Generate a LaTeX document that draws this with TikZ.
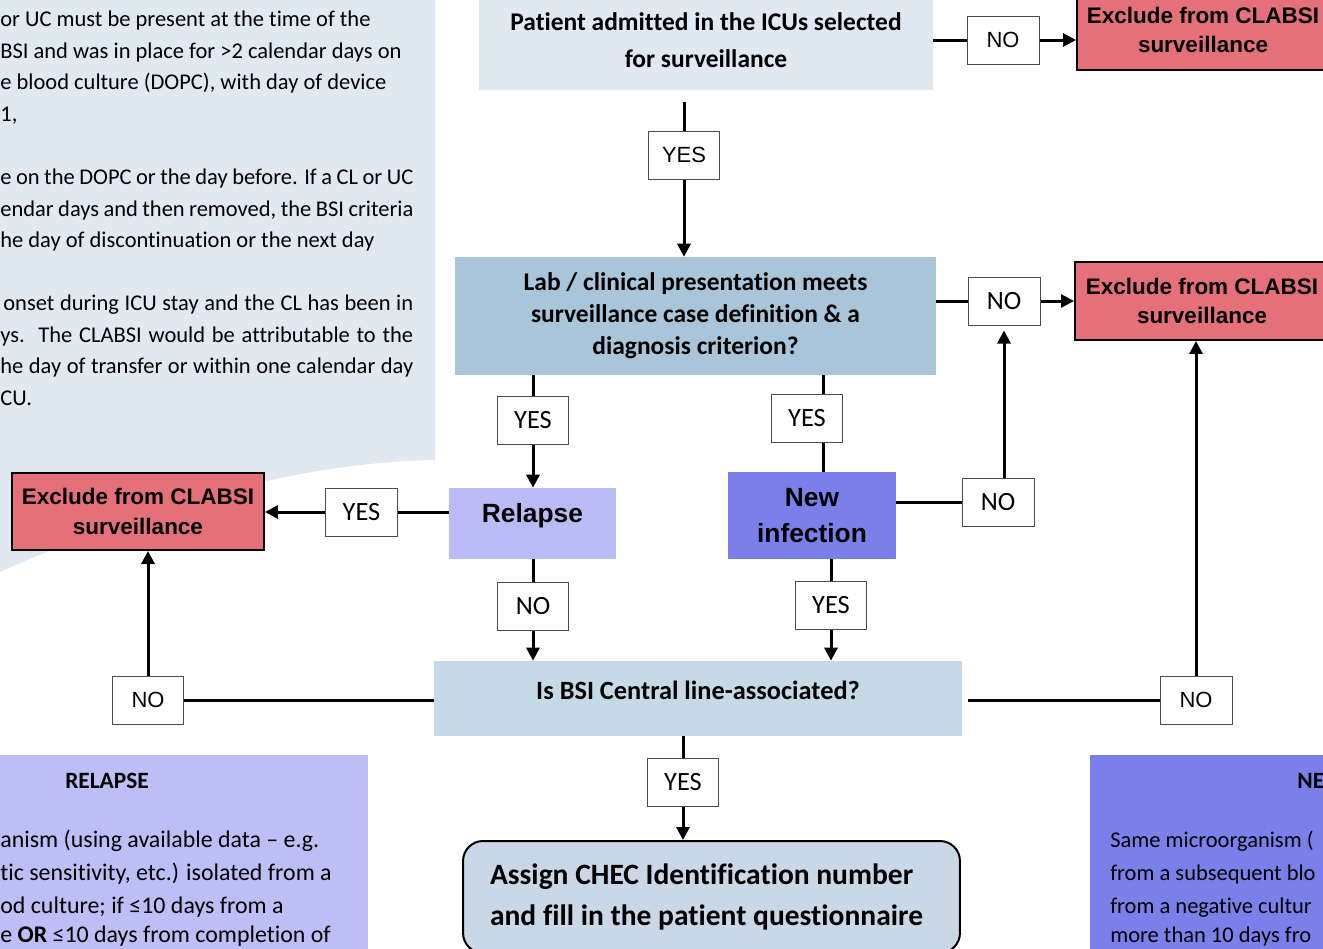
\documentclass[tikz,border=0pt]{standalone}
\usepackage{fontspec}
\setmainfont{Carlito}[Ligatures=NoCommon]
\newfontfamily\arialfont{Liberation Sans}
\usetikzlibrary{arrows.meta}

\definecolor{paleblue}{HTML}{E0E8F1}
\definecolor{labblue}{HTML}{A9C5DA}
\definecolor{bsiblue}{HTML}{C6D9E7}
\definecolor{assignblue}{HTML}{C9D7E6}
\definecolor{excludered}{HTML}{E5707A}
\definecolor{relapselilac}{HTML}{B9BCF4}
\definecolor{newviolet}{HTML}{7B7FEA}

\begin{document}
\begin{tikzpicture}[x=0.02cm, y=-0.02cm]
\newcommand{\justline}[1]{\makebox[82.6mm][s]{#1}}
\newcommand{\parafont}{\fontsize{12.8}{15}\selectfont}
\newcommand{\notefont}{\fontsize{13.6}{16}\selectfont}

\tikzset{ boxstyle/.style={inner sep=0pt, align=center,
    font={\fontsize{14.5}{21}\selectfont\bfseries}},
  excludestyle/.style={draw, line width=0.4mm, fill=excludered,
    minimum width=50.4mm, inner sep=0pt, align=center,
    font={\arialfont\fontsize{12.8}{17}\selectfont\bfseries}},
  labelstyle/.style={draw=gray!60!black, line width=0.2mm, fill=white,
    minimum width=14.4mm, minimum height=9.6mm, inner sep=0pt,
    font={\fontsize{15}{17}\selectfont}},
  arialabel/.style={labelstyle, font={\arialfont\fontsize{12.5}{14}\selectfont}},
  paraline/.style={anchor=base west, inner sep=0pt, font=\parafont},
  noteline/.style={anchor=base west, inner sep=0pt, font=\notefont},
  linestyle/.style={line width=0.6mm},
  arrowstyle/.style={linestyle, -{Triangle[length=2.6mm, width=2.6mm]}}
}

\useasboundingbox (0,0) rectangle (1323,948);
\clip (0,0) rectangle (1323,948);

% background panels
\fill[paleblue] (0,0) -- (435,0) -- (435,460) .. controls (300,462) and (150,505) .. (0,572) -- cycle;
\fill[relapselilac!95!white] (0,755) rectangle (368,960);
\fill[newviolet] (1090,755) rectangle (1330,960);

% notes, top left
\node (intro1) at (0,26) [paraline] {or UC must be present at the time of the};
\node (intro2) at (0,58) [paraline] {BSI and was in place for >2 calendar days on};
\node (intro3) at (0,89) [paraline] {e blood culture (DOPC), with day of device};
\node (intro4) at (0,121) [paraline] {1,};
\node (intro5) at (0,184) [paraline] {\justline{e on the DOPC or the day before. If a CL or UC}};
\node (intro6) at (0,216) [paraline] {\justline{endar days and then removed, the BSI criteria}};
\node (intro7) at (0,247) [paraline] {he day of discontinuation or the next day};
\node (intro8) at (3,310) [paraline] {\makebox[82mm][s]{onset during ICU stay and the CL has been in}};
\node (intro9) at (0,342) [paraline] {\justline{ys.\ \ The CLABSI would be attributable to the}};
\node (intro10) at (0,373) [paraline] {\justline{he day of transfer or within one calendar day}};
\node (intro11) at (0,405) [paraline] {CU.};

% notes, bottom
\node (relhead) at (107,781) [font={\fontsize{13.3}{15}\selectfont\bfseries}] {RELAPSE};
\node (rel1) at (0,847) [noteline] {anism (using available data – e.g.};
\node (rel2) at (0,880) [noteline] {tic sensitivity, etc.) isolated from a};
\node (rel3) at (0,913) [noteline] {od culture; if ≤10 days from a};
\node (rel4) at (0,942) [noteline] {e \textbf{OR} ≤10 days from completion of};
\node (newhead) at (1297,781) [anchor=west, inner sep=0pt, font={\fontsize{13.3}{15}\selectfont\bfseries}] {NE};
\node (new1) at (1110,847) [paraline] {Same microorganism (};
\node (new2) at (1110,880) [paraline] {from a subsequent blo};
\node (new3) at (1110,913) [paraline] {from a negative cultur};
\node (new4) at (1110,942) [paraline] {more than 10 days fro};

% flowchart boxes
\node (admit) at (706,40) [boxstyle, fill=paleblue, minimum width=90.8mm, minimum height=20mm,
  font={\fontsize{14.5}{21}\selectfont\bfseries}] {Patient admitted in the ICUs selected\\for surveillance};
\node (lab) at (695.5,316) [boxstyle, fill=labblue, minimum width=96.2mm, minimum height=23.6mm,
  font={\fontsize{14.5}{18.2}\selectfont\bfseries}] {Lab / clinical presentation meets\\surveillance case definition \& a\\diagnosis criterion?};
\node (relapse) at (532.5,523.5) [boxstyle, fill=relapselilac, minimum width=33.4mm, minimum height=14.2mm,
  text depth=4.2mm, font={\arialfont\fontsize{15}{20}\selectfont\bfseries}] {Relapse};
\node (newinf) at (812,515.5) [boxstyle, fill=newviolet, minimum width=33.6mm, minimum height=17.4mm,
  font={\arialfont\fontsize{15}{20}\selectfont\bfseries}] {New\\infection};
\node (bsi) at (698,698.5) [boxstyle, fill=bsiblue, minimum width=105.6mm, minimum height=15mm,
  text depth=3.4mm, font={\fontsize{15}{18}\selectfont\bfseries}] {Is BSI Central line-associated?};
\node (assign) at (711.5,840) [anchor=north, draw, line width=0.4mm, rounded corners=4mm, fill=assignblue,
  text width=88.6mm, inner xsep=5.4mm, minimum height=22.4mm, align=flush left,
  font={\fontsize{16.8}{23.3}\selectfont\bfseries}] {Assign CHEC Identification number\\and fill in the patient questionnaire};

\node (excl1) at (1203,30) [excludestyle, minimum height=16mm] {Exclude from CLABSI\\surveillance};
\node (excl2) at (1202,301) [excludestyle, minimum width=50.8mm, minimum height=15.6mm] {Exclude from CLABSI\\surveillance};
\node (exclL) at (138,511.5) [excludestyle, minimum height=15.4mm] {Exclude from CLABSI\\surveillance};

% yes / no labels
\node (yesA) at (684,155) [arialabel] {YES};
\node (noA) at (1003,40) [arialabel] {NO};
\node (noB) at (1004,301) [labelstyle] {NO};
\node (yesB) at (533,420) [labelstyle] {YES};
\node (yesC) at (807,418) [labelstyle] {YES};
\node (yesD) at (361.5,512) [labelstyle] {YES};
\node (noC) at (998,502.5) [labelstyle] {NO};
\node (noD) at (533,606.5) [labelstyle] {NO};
\node (yesE) at (831,605.5) [labelstyle] {YES};
\node (noE) at (148,700) [arialabel] {NO};
\node (noF) at (1196,700) [arialabel] {NO};
\node (yesF) at (683,782) [labelstyle] {YES};

% connectors
\draw[linestyle, shorten <=2.4mm] (yesA |- admit.south) -- (yesA);
\draw[arrowstyle] (yesA) -- (yesA |- lab.north);
\draw[linestyle] (admit.east |- noA) -- (noA);
\draw[arrowstyle] (noA) -- (noA -| excl1.west);

\draw[linestyle] (lab.east |- noB) -- (noB);
\draw[arrowstyle] (noB) -- (noB -| excl2.west);
\draw[linestyle] (yesB |- lab.south) -- (yesB);
\draw[arrowstyle] (yesB) -- (yesB |- relapse.north);
\draw[linestyle] ([xshift=3.2mm]yesC.north |- lab.south) -- ([xshift=3.2mm]yesC.north);
\draw[linestyle] ([xshift=3.2mm]yesC.south) -- ([xshift=3.2mm]yesC.south |- newinf.north);

\draw[linestyle] (relapse.west |- yesD) -- (yesD);
\draw[arrowstyle] (yesD) -- (yesD -| exclL.east);
\draw[linestyle] (newinf.east |- noC) -- (noC);
\draw[arrowstyle, shorten >=1mm] (noC.north -| noB) -- (noB.south);

\draw[linestyle] (noD |- relapse.south) -- (noD);
\draw[arrowstyle] (noD) -- (noD |- bsi.north);
\draw[linestyle] (yesE |- newinf.south) -- (yesE);
\draw[arrowstyle] (yesE) -- (yesE |- bsi.north);

\draw[linestyle] (bsi.west |- noE) -- (noE);
\draw[arrowstyle] (noE) -- (noE |- exclL.south);
\draw[linestyle, shorten <=1.2mm] (bsi.east |- noF) -- (noF);
\draw[arrowstyle] (noF) -- (noF |- excl2.south);
\draw[linestyle] (yesF |- bsi.south) -- (yesF);
\draw[arrowstyle] (yesF) -- (yesF |- assign.north);

\end{tikzpicture}
\end{document}
